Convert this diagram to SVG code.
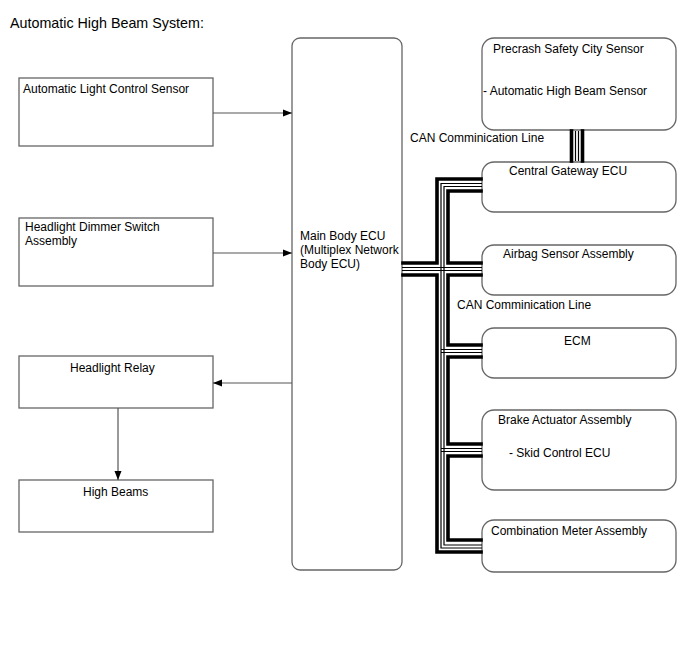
<svg xmlns="http://www.w3.org/2000/svg" width="688" height="658" viewBox="0 0 688 658">
<style>
text{font-family:"Liberation Sans",Arial,sans-serif;font-size:12px;fill:#000}
.box{fill:#fff;stroke:#666;stroke-width:1.3}
.arr{stroke:#555;stroke-width:1.2;fill:none;marker-end:url(#ah)}
.tk{stroke:#000;stroke-width:3.6;fill:none;stroke-linecap:square}
.tn{stroke:#000;stroke-width:1.2;fill:none}
</style>
<defs>
<marker id="ah" markerWidth="10" markerHeight="8" refX="9" refY="4" orient="auto" markerUnits="userSpaceOnUse">
<path d="M0,0.5 L9,4 L0,7.5 Z" fill="#000"/>
</marker>
</defs>
<rect width="688" height="658" fill="#fff"/>
<text x="10" y="28" style="font-size:14.3px">Automatic High Beam System:</text>

<g id="alc"><rect class="box" x="19" y="78" width="194" height="68"/><text x="23" y="93">Automatic Light Control Sensor</text></g>
<g id="dimmer"><rect class="box" x="19" y="218" width="194" height="68"/><text x="25" y="231">Headlight Dimmer Switch</text><text x="25" y="245">Assembly</text></g>
<g id="relay"><rect class="box" x="19" y="356" width="194" height="52"/><text x="70" y="372">Headlight Relay</text></g>
<g id="highbeams"><rect class="box" x="19" y="480" width="194" height="52"/><text x="83" y="496">High Beams</text></g>

<g id="mainecu"><rect class="box" x="292" y="38" width="110" height="532" rx="8"/><text x="300" y="240">Main Body ECU</text><text x="300" y="254">(Multiplex Network</text><text x="300" y="268">Body ECU)</text></g>

<g id="precrash"><rect class="box" x="482" y="38" width="194" height="92" rx="12"/><text x="493" y="53">Precrash Safety City Sensor</text><text x="483" y="95">- Automatic High Beam Sensor</text></g>
<g id="gateway"><rect class="box" x="482" y="162" width="194" height="50" rx="12"/><text x="509" y="175">Central Gateway ECU</text></g>
<g id="airbag"><rect class="box" x="482" y="245" width="194" height="50" rx="12"/><text x="503" y="258">Airbag Sensor Assembly</text></g>
<g id="ecm"><rect class="box" x="482" y="328" width="194" height="50" rx="12"/><text x="564" y="345">ECM</text></g>
<g id="brake"><rect class="box" x="482" y="410" width="194" height="80" rx="12"/><text x="498" y="424">Brake Actuator Assembly</text><text x="509" y="457">- Skid Control ECU</text></g>
<g id="meter"><rect class="box" x="482" y="520" width="194" height="52" rx="12"/><text x="491" y="535">Combination Meter Assembly</text></g>

<text x="410" y="142">CAN Comminication Line</text>
<text x="457" y="309">CAN Comminication Line</text>

<g id="connectors">
<line class="arr" x1="213" y1="113" x2="292" y2="113"/>
<line class="arr" x1="213" y1="253" x2="292" y2="253"/>
<line class="arr" x1="292" y1="383" x2="213" y2="383"/>
<line class="arr" x1="118" y1="408" x2="118" y2="480"/>

<!-- precrash to gateway -->
<line class="tk" x1="571.5" y1="131" x2="571.5" y2="161"/>
<line class="tk" x1="582.5" y1="131" x2="582.5" y2="161"/>
<line class="tn" x1="575.5" y1="131" x2="575.5" y2="161"/>
<line class="tn" x1="578.5" y1="131" x2="578.5" y2="161"/>

<!-- trunk outer thick -->
<polyline class="tk" points="481,179 437,179 437,263 403,263"/>
<polyline class="tk" points="403,275 437,275 437,552 481,552"/>
<!-- trunk inner thick -->
<polyline class="tk" points="481,191 448,191 448,263 481,263"/>
<polyline class="tk" points="481,275 448,275 448,345 481,345"/>
<polyline class="tk" points="481,357 448,357 448,444 481,444"/>
<polyline class="tk" points="481,456 448,456 448,540 481,540"/>
<!-- thin lines -->
<polyline class="tn" points="482,183.5 441,183.5 441,548 482,548"/>
<polyline class="tn" points="482,186.5 444,186.5 444,545 482,545"/>
<line class="tn" x1="402" y1="267.5" x2="482" y2="267.5"/>
<line class="tn" x1="402" y1="270.5" x2="482" y2="270.5"/>
<line class="tn" x1="441" y1="349.5" x2="482" y2="349.5"/>
<line class="tn" x1="441" y1="352.5" x2="482" y2="352.5"/>
<line class="tn" x1="441" y1="448.5" x2="482" y2="448.5"/>
<line class="tn" x1="441" y1="451.5" x2="482" y2="451.5"/>
</g>
</svg>
